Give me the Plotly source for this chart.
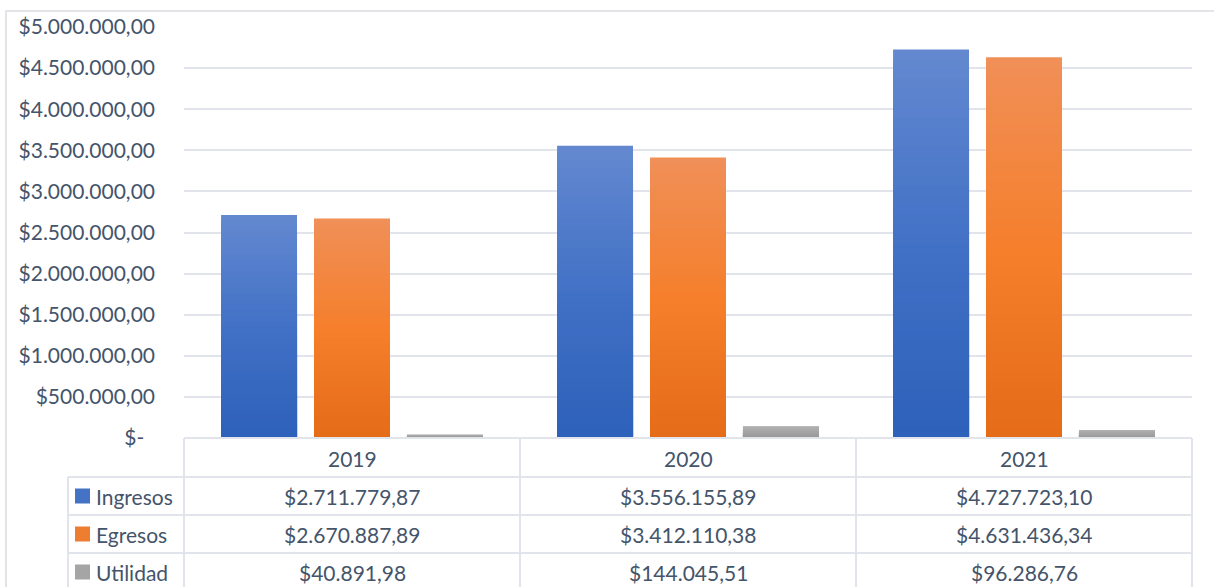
import plotly.graph_objects as go

years = ["2019", "2020", "2021"]
series_names = ["Ingresos", "Egresos", "Utilidad"]
ingresos = [2711779.87, 3556155.89, 4727723.10]
egresos = [2670887.89, 3412110.38, 4631436.34]
utilidad = [40891.98, 144045.51, 96286.76]
y_ticks = [0, 500000, 1000000, 1500000, 2000000, 2500000, 3000000, 3500000, 4000000, 4500000, 5000000]

series_values = [ingresos, egresos, utilidad]
# gradient stops (top, middle, bottom) per series
grad = [
    [(99, 136, 208), (66, 113, 198), (46, 97, 186)],
    [(240, 143, 87), (245, 127, 44), (229, 108, 24)],
    [(178, 178, 178), (165, 165, 165), (150, 150, 150)],
]
legend_colors = ["#4472C4", "#ED7D31", "#A5A5A5"]

FONT = "Lato"
FS = 21
TXT = "#44546A"
GRID = "#E1E4EA"


def fmt(v):
    if v == 0:
        return "$-\u00a0\u00a0"
    s = f"{v:,.2f}"
    s = s.replace(",", "X").replace(".", ",").replace("X", ".")
    return "$" + s


def lerp(c1, c2, t):
    return tuple(round(a + (b - a) * t) for a, b in zip(c1, c2))


def grad_color(stops, t):
    # t: 0 top -> 1 bottom
    if t <= 0.5:
        c = lerp(stops[0], stops[1], t / 0.5)
    else:
        c = lerp(stops[1], stops[2], (t - 0.5) / 0.5)
    return "rgb(%d,%d,%d)" % c


fig = go.Figure()
N = 40
for si, (name, vals) in enumerate(zip(series_names, series_values)):
    for k in range(N):
        frac = (N - k) / N
        fig.add_trace(go.Bar(
            x=years,
            y=[v * frac for v in vals],
            name=name,
            offsetgroup=str(si),
            marker=dict(color=grad_color(grad[si], k / (N - 1)), line=dict(width=0)),
            showlegend=False,
            hoverinfo="skip" if k else None,
        ))

# ---- layout geometry (pixels) ----
W, H = 1214, 587
L, R, T, B = 184, 22, 27, 149
pw, ph = W - L - R, H - T - B


def px(x):
    return (x - L) / pw


def py(y):
    return (H - B - y) / ph


shapes = []
line = dict(color=GRID, width=2)
# outer chart border
shapes.append(dict(type="rect", xref="paper", yref="paper", x0=px(6), x1=px(1230), y0=py(600), y1=py(11),
                   line=dict(color="#D9DCE1", width=1.5), layer="below"))
# table horizontal lines
row_lines = [477, 515, 553, 591]
for yy in row_lines:
    shapes.append(dict(type="line", xref="paper", yref="paper", x0=px(68), x1=1, y0=py(yy), y1=py(yy), line=line))
shapes.append(dict(type="line", xref="paper", yref="paper", x0=0, x1=1, y0=0, y1=0, line=line))
# table vertical lines at category boundaries
for xx in [0, 1 / 3, 2 / 3, 1]:
    shapes.append(dict(type="line", xref="paper", yref="paper", x0=xx, x1=xx, y0=0, y1=py(600), line=line))
shapes.append(dict(type="line", xref="paper", yref="paper", x0=px(68), x1=px(68), y0=py(477), y1=py(600), line=line))

annotations = []
afont = dict(family=FONT, size=FS, color=TXT)
for i, yr in enumerate(years):
    annotations.append(dict(x=i, xref="x", y=py(458), yref="paper", text=yr, showarrow=False,
                            xanchor="center", yanchor="middle", font=afont))
row_centers = [496, 534, 572]
for ri, (name, vals) in enumerate(zip(series_names, series_values)):
    yc = row_centers[ri]
    for i, v in enumerate(vals):
        annotations.append(dict(x=i, xref="x", y=py(yc), yref="paper", text=fmt(v), showarrow=False,
                                xanchor="center", yanchor="middle", font=afont))
    annotations.append(dict(x=px(94), xref="paper", y=py(yc), yref="paper", text=name, showarrow=False,
                            xanchor="left", yanchor="middle", font=afont))
    shapes.append(dict(type="rect", xref="paper", yref="paper", x0=px(75), x1=px(90), y0=py(yc + 7.5),
                       y1=py(yc - 7.5), fillcolor=legend_colors[ri], line=dict(width=0)))

fig.update_layout(
    width=W, height=H,
    margin=dict(l=L, r=R, t=T, b=B, pad=0),
    paper_bgcolor="white", plot_bgcolor="white",
    barmode="group", bargap=0.17, bargroupgap=0.183,
    showlegend=False,
    font=dict(family=FONT, size=FS, color=TXT),
    xaxis=dict(type="category", range=[-0.5, 2.5], showticklabels=False, showgrid=False,
               zeroline=False, showline=False, ticks=""),
    yaxis=dict(range=[0, 5000000], tickvals=y_ticks, ticktext=[fmt(v) for v in y_ticks],
               showgrid=True, gridcolor=GRID, gridwidth=1.5, zeroline=False, showline=False,
               ticks="", ticklabelstandoff=28, tickfont=dict(family=FONT, size=FS, color=TXT)),
    shapes=shapes,
    annotations=annotations,
)

fig.write_html("out.html", config={"displayModeBar": False},
               post_script="document.body.style.margin='0';")
